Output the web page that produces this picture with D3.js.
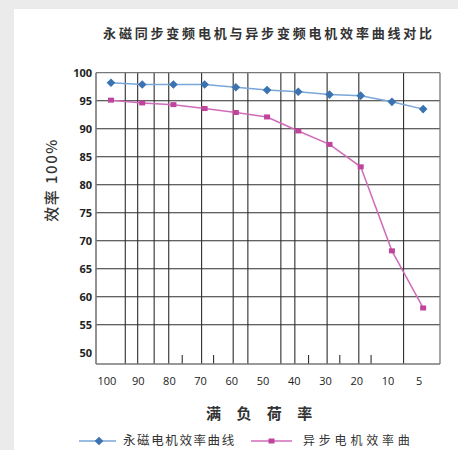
<!DOCTYPE html>
<html><head><meta charset="utf-8">
<script src="https://cdn.jsdelivr.net/npm/d3@7"></script>
<style>
html,body{margin:0;padding:0;background:#ebebeb;}
svg{display:block;}
</style></head>
<body>
<svg id="c" width="458" height="450"></svg>
<script>
const categories = ['100','90','80','70','60','50','40','30','20','10','5'];
const pmValues = [98.2, 97.9, 97.9, 97.9, 97.4, 96.9, 96.6, 96.1, 95.9, 94.8, 93.5];
const asyncValues = [95.1, 94.6, 94.3, 93.6, 92.9, 92.1, 89.6, 87.2, 83.2, 68.2, 58.0];
const yTicks = [100, 95, 90, 85, 80, 75, 70, 65, 60, 55, 50];
const yGrid = [95, 90, 85, 80, 75, 70, 65, 60, 55];
const xGrid = [0.458, 0.855, 1.383, 1.850, 2.903, 3.915, 4.385, 5.442, 5.890, 6.924, 7.939, 9.373];
const xShortTicks = [2.282, 3.287, 6.329, 7.330, 8.332];
const title = '永磁同步变频电机与异步变频电机效率曲线对比';
const yTitle = '效率 100%';
const xTitle = '满 负 荷 率';
const seriesNames = ['永磁电机效率曲线', '异步电机效率曲'];

const svg = d3.select('#c');
svg.append('rect').attr('x',14).attr('y',9).attr('width',444).attr('height',441).attr('fill','#fff');

const x = d3.scaleLinear().domain([-0.48, 10.54]).range([96, 440]);
const y = d3.scaleLinear().domain([48, 100]).range([364, 72.7]);

const cjk = '"Noto Sans CJK SC", sans-serif';

svg.append('text').attr('x', 269).attr('y', 38).attr('text-anchor','middle')
  .attr('font-family', cjk).attr('font-size', 13).attr('font-weight', 700)
  .attr('letter-spacing', 2.8).attr('fill','#333').text(title);

const g = svg.append('g');
g.selectAll('.hg').data(yGrid).join('line')
  .attr('x1', x.range()[0]).attr('x2', x.range()[1])
  .attr('y1', d => y(d)).attr('y2', d => y(d))
  .attr('stroke', '#2e2e2e').attr('stroke-width', 1.1);
g.selectAll('.vg').data(xGrid).join('line')
  .attr('x1', d => x(d)).attr('x2', d => x(d))
  .attr('y1', y(100)).attr('y2', y(48))
  .attr('stroke', '#2e2e2e').attr('stroke-width', 1.1);
g.selectAll('.st').data(xShortTicks).join('line')
  .attr('x1', d => x(d)).attr('x2', d => x(d))
  .attr('y1', y(48) - 9).attr('y2', y(48))
  .attr('stroke', '#2e2e2e').attr('stroke-width', 1.1);
g.append('line').attr('x1', x.range()[0]).attr('x2', x.range()[1]).attr('y1', y(100)).attr('y2', y(100)).attr('stroke','#777').attr('stroke-width',1.3);
g.append('line').attr('x1', x.range()[0]).attr('x2', x.range()[1]).attr('y1', y(48)).attr('y2', y(48)).attr('stroke','#777').attr('stroke-width',1.6);
g.append('line').attr('x1', x.range()[0]).attr('x2', x.range()[0]).attr('y1', y(100)).attr('y2', y(48)).attr('stroke','#777').attr('stroke-width',1.6);
g.append('line').attr('x1', x.range()[1]).attr('x2', x.range()[1]).attr('y1', y(100)).attr('y2', y(48)).attr('stroke','#777').attr('stroke-width',1.3);

svg.selectAll('.yl').data(yTicks).join('text')
  .attr('x', 92).attr('y', d => y(d)).attr('dy','0.35em').attr('text-anchor','end')
  .attr('font-family','"Open Sans", sans-serif').attr('font-weight',700).attr('font-size',11)
  .attr('fill','#222').text(d => d);
svg.selectAll('.xl').data(categories).join('text')
  .attr('x', (d,i) => x(i) - 4).attr('y', 385).attr('text-anchor','middle')
  .attr('font-family','"Open Sans", sans-serif').attr('font-size',11)
  .attr('fill','#222').text(d => d);

svg.append('text').attr('transform','translate(57,180) rotate(-90)').attr('text-anchor','middle')
  .attr('font-family', cjk).attr('font-size',15).attr('font-weight',500).attr('letter-spacing',1.5)
  .attr('fill','#333').text(yTitle);
svg.append('text').attr('x', 206).attr('y', 419).attr('text-anchor','start')
  .attr('font-family', cjk).attr('font-size',15).attr('font-weight',700).attr('fill','#333')
  .attr('letter-spacing', 6).text(xTitle);

const line = d3.line().x((d,i) => x(i)).y(d => y(d));
svg.append('path').datum(pmValues).attr('d', line).attr('fill','none').attr('stroke','#7aa6d8').attr('stroke-width',1.5);
svg.append('path').datum(asyncValues).attr('d', line).attr('fill','none').attr('stroke','#d06cb8').attr('stroke-width',1.5);
const diamond = d3.symbol().type(d3.symbolDiamond2).size(48);
svg.selectAll('.pm').data(pmValues).join('path')
  .attr('transform', (d,i) => `translate(${x(i)},${y(d)})`).attr('d', diamond).attr('fill','#3b72b2');
svg.selectAll('.as').data(asyncValues).join('rect')
  .attr('x', (d,i) => x(i) - 3).attr('y', d => y(d) - 2.5).attr('width',6).attr('height',5).attr('fill','#c0449c');

const lg = svg.append('g');
lg.append('line').attr('x1',79).attr('x2',116).attr('y1',441).attr('y2',441).attr('stroke','#7aa6d8').attr('stroke-width',1.5);
lg.append('path').attr('transform','translate(99,441)').attr('d', diamond).attr('fill','#3b72b2');
lg.append('text').attr('x',123).attr('y',441).attr('dy','0.35em').attr('font-family',cjk).attr('font-size',12.5)
  .attr('letter-spacing',1.6).attr('fill','#333').text(seriesNames[0]);
lg.append('line').attr('x1',251).attr('x2',292).attr('y1',441).attr('y2',441).attr('stroke','#d06cb8').attr('stroke-width',1.5);
lg.append('rect').attr('x',268.5).attr('y',438.5).attr('width',6).attr('height',5).attr('fill','#c0449c');
lg.append('text').attr('x',303).attr('y',441).attr('dy','0.35em').attr('font-family',cjk).attr('font-size',12)
  .attr('letter-spacing',3.8).attr('fill','#333').text(seriesNames[1]);
</script>
</body></html>
